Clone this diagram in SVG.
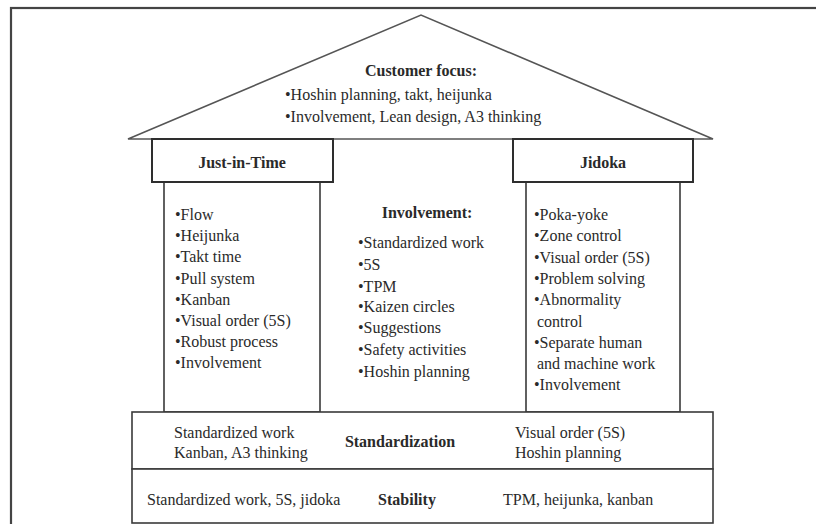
<svg xmlns="http://www.w3.org/2000/svg" width="816" height="524" viewBox="0 0 816 524">
<style>
  .t { font-family: "Liberation Serif", "Times New Roman", serif; font-size: 16px; fill: #2a2a2a; }
  .b { font-weight: bold; text-anchor: middle; }
  .box { fill: #ffffff; stroke: #3a3a3a; stroke-width: 1.6; }
  .hdr { fill: #ffffff; stroke: #2e2e2e; stroke-width: 2; }
  .roof { fill: #ffffff; stroke: #555555; stroke-width: 1.6; stroke-linejoin: miter; }
  .frame { fill: none; stroke: #444444; stroke-width: 2.2; }
</style>
<rect x="0" y="0" width="816" height="524" fill="#ffffff"/>
<g id="frame"><rect class="frame" x="11" y="8" width="900" height="600"/></g>

<g id="roof">
  <polygon class="roof" points="128,139 421,15 713,139"/>
  <text class="t b" x="421" y="76">Customer focus:</text>
  <text class="t" x="285" y="100">•Hoshin planning, takt, heijunka</text>
  <text class="t" x="285" y="122">•Involvement, Lean design, A3 thinking</text>
</g>

<g id="jit-column">
  <rect class="box" x="164" y="182" width="156" height="230"/>
  <text class="t" x="175" y="220">•Flow</text>
  <text class="t" x="175" y="241">•Heijunka</text>
  <text class="t" x="175" y="262">•Takt time</text>
  <text class="t" x="175" y="284">•Pull system</text>
  <text class="t" x="175" y="305">•Kanban</text>
  <text class="t" x="175" y="326">•Visual order (5S)</text>
  <text class="t" x="175" y="347">•Robust process</text>
  <text class="t" x="175" y="368">•Involvement</text>
</g>
<g id="jit-header">
  <rect class="hdr" x="152" y="139" width="181" height="43"/>
  <text class="t b" x="242" y="168">Just-in-Time</text>
</g>

<g id="involvement">
  <text class="t b" x="427" y="218">Involvement:</text>
  <text class="t" x="358" y="248">•Standardized work</text>
  <text class="t" x="358" y="270">•5S</text>
  <text class="t" x="358" y="292">•TPM</text>
  <text class="t" x="358" y="312">•Kaizen circles</text>
  <text class="t" x="358" y="333">•Suggestions</text>
  <text class="t" x="358" y="355">•Safety activities</text>
  <text class="t" x="358" y="377">•Hoshin planning</text>
</g>

<g id="jidoka-column">
  <rect class="box" x="526" y="182" width="154" height="230"/>
  <text class="t" x="534" y="220">•Poka-yoke</text>
  <text class="t" x="534" y="241">•Zone control</text>
  <text class="t" x="534" y="263">•Visual order (5S)</text>
  <text class="t" x="534" y="284">•Problem solving</text>
  <text class="t" x="534" y="305">•Abnormality</text>
  <text class="t" x="537" y="327">control</text>
  <text class="t" x="534" y="348">•Separate human</text>
  <text class="t" x="537" y="369">and machine work</text>
  <text class="t" x="534" y="390">•Involvement</text>
</g>
<g id="jidoka-header">
  <rect class="hdr" x="513" y="139" width="180" height="43"/>
  <text class="t b" x="603" y="168">Jidoka</text>
</g>

<g id="standardization">
  <rect class="box" x="132" y="412" width="581" height="57"/>
  <text class="t" x="174" y="438">Standardized work</text>
  <text class="t" x="174" y="458">Kanban, A3 thinking</text>
  <text class="t b" x="400" y="447">Standardization</text>
  <text class="t" x="515" y="438">Visual order (5S)</text>
  <text class="t" x="515" y="458">Hoshin planning</text>
</g>

<g id="stability">
  <rect class="box" x="132" y="469" width="581" height="54"/>
  <text class="t" x="147" y="505">Standardized work, 5S, jidoka</text>
  <text class="t b" x="407" y="505">Stability</text>
  <text class="t" x="503" y="505">TPM, heijunka, kanban</text>
</g>

<g id="connectors"></g>
</svg>
